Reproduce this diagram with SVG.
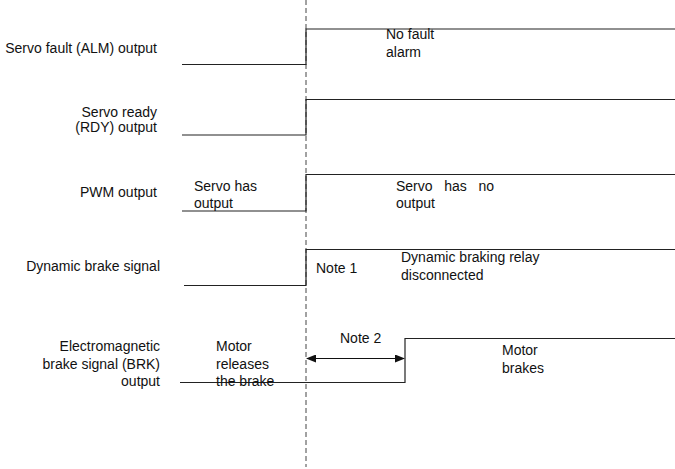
<svg xmlns="http://www.w3.org/2000/svg" width="675" height="469" viewBox="0 0 675 469">
<defs>
<style>
text{font-family:"Liberation Sans",Arial,sans-serif;font-size:14px;fill:#111}
.r{text-anchor:end}
.sig{fill:none;stroke:#222;stroke-width:1.2}
.dash{stroke:#444;stroke-width:1;stroke-dasharray:5,3}
</style>
<marker id="ah" markerWidth="10" markerHeight="8" refX="9" refY="4" orient="auto-start-reverse" markerUnits="userSpaceOnUse">
<path d="M0,0 L10,4 L0,8 Z" fill="#111"/>
</marker>
</defs>
<rect width="675" height="469" fill="#fff"/>
<g id="connectors">
<line class="dash" x1="306" y1="0" x2="306" y2="467"/>
<line x1="307" y1="358.5" x2="404" y2="358.5" stroke="#111" stroke-width="1.2" marker-start="url(#ah)" marker-end="url(#ah)"/>
</g>
<g id="alm">
<text class="r" x="157" y="53">Servo fault (ALM) output</text>
<polyline class="sig" points="182,64.5 306,64.5 306,29 675,29"/>
<text x="386" y="39">No fault</text>
<text x="386" y="57">alarm</text>
</g>
<g id="rdy">
<text class="r" x="157" y="117">Servo ready</text>
<text class="r" x="157" y="132">(RDY) output</text>
<polyline class="sig" points="182,135 306,135 306,99.5 675,99.5"/>
</g>
<g id="pwm">
<text class="r" x="157" y="197">PWM output</text>
<polyline class="sig" points="182,211 306,211 306,174.5 675,174.5"/>
<text x="194" y="191">Servo has</text>
<text x="194" y="208">output</text>
<text x="396" y="191" xml:space="preserve">Servo   has   no</text>
<text x="396" y="208">output</text>
</g>
<g id="dyn">
<text class="r" x="160" y="271">Dynamic brake signal</text>
<polyline class="sig" points="184,285.5 306,285.5 306,249.5 675,249.5"/>
<text x="316" y="273">Note 1</text>
<text x="401" y="262">Dynamic braking relay</text>
<text x="401" y="280">disconnected</text>
</g>
<g id="brk">
<text class="r" x="160" y="351">Electromagnetic</text>
<text class="r" x="160" y="369">brake signal (BRK)</text>
<text class="r" x="160" y="386">output</text>
<polyline class="sig" points="180,382.5 405,382.5 405,338.5 675,338.5"/>
<text x="216" y="351">Motor</text>
<text x="216" y="369">releases</text>
<text x="216" y="386">the brake</text>
<text x="340" y="343">Note 2</text>
<text x="502" y="355">Motor</text>
<text x="502" y="373">brakes</text>
</g>
</svg>
